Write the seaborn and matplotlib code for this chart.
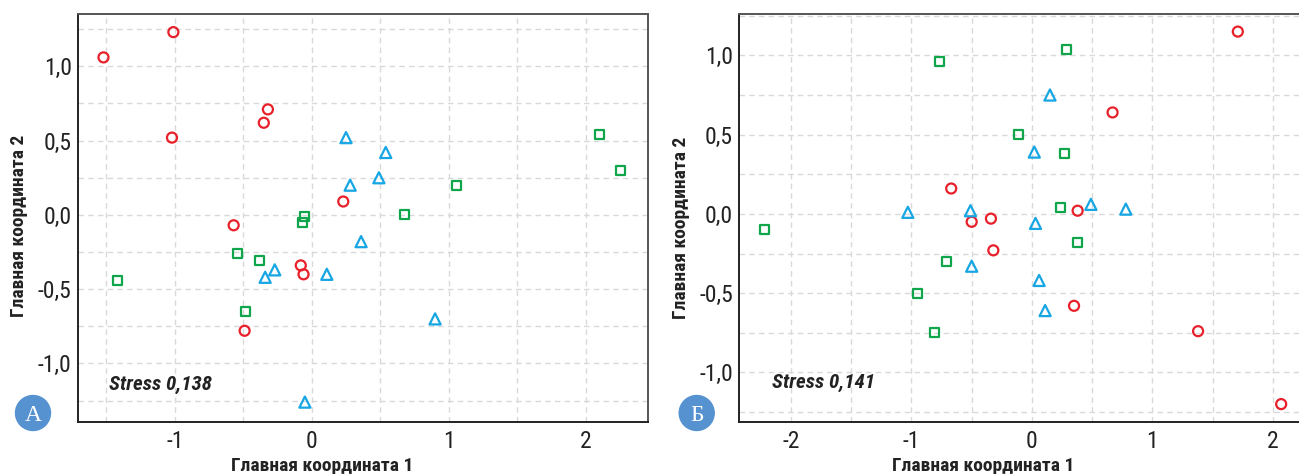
import matplotlib

matplotlib.use("Agg")
import matplotlib.pyplot as plt
import pandas as pd
import seaborn as sns
from matplotlib import font_manager
from matplotlib.patches import Ellipse
from matplotlib.ticker import FixedLocator

# panel A (Stress 0,138)
A_RED_X = [-1.52, -1.01, -0.32, -0.35, -1.02, 0.23, -0.57, -0.08, -0.06, -0.49]
A_RED_Y = [1.06, 1.23, 0.71, 0.62, 0.52, 0.09, -0.07, -0.34, -0.40, -0.78]
A_BLUE_X = [0.25, 0.54, 0.49, 0.28, 0.36, -0.27, -0.34, 0.11, 0.90, -0.05]
A_BLUE_Y = [0.52, 0.42, 0.25, 0.20, -0.18, -0.37, -0.42, -0.40, -0.70, -1.26]
A_GREEN_X = [2.10, 2.25, 1.06, 0.68, -0.05, -0.07, -0.54, -0.38, -1.42, -0.48]
A_GREEN_Y = [0.54, 0.30, 0.20, 0.00, -0.01, -0.05, -0.26, -0.31, -0.44, -0.65]

# panel Б (Stress 0,141)
B_RED_X = [1.71, 0.67, -0.67, -0.34, -0.50, 0.38, -0.32, 0.35, 1.38, 2.07]
B_RED_Y = [1.15, 0.64, 0.16, -0.03, -0.05, 0.02, -0.23, -0.58, -0.74, -1.20]
B_BLUE_X = [0.15, 0.02, -1.03, -0.51, 0.03, 0.49, 0.78, -0.50, 0.06, 0.11]
B_BLUE_Y = [0.75, 0.39, 0.01, 0.02, -0.06, 0.06, 0.03, -0.33, -0.42, -0.61]
B_GREEN_X = [0.29, -0.77, -0.11, 0.27, 0.24, -2.22, 0.38, -0.71, -0.95, -0.81]
B_GREEN_Y = [1.04, 0.96, 0.50, 0.38, 0.04, -0.10, -0.18, -0.30, -0.50, -0.75]

A_XTICKS = [-1, 0, 1, 2]
B_XTICKS = [-2, -1, 0, 1, 2]
YTICKS = [-1.0, -0.5, 0.0, 0.5, 1.0]
YTICK_LABELS = ["-1,0", "-0,5", "0,0", "0,5", "1,0"]
STRESS_A = "Stress 0,138"
STRESS_B = "Stress 0,141"
XLABEL = "Главная координата 1"
YLABEL = "Главная координата 2"

STYLE = {
    "red": ("o", "#e8202a", 52),
    "blue": ("^", "#16a6e3", 64),
    "green": ("s", "#0fa64b", 42),
}

W, H = 1299, 474
SERIF = ["Liberation Serif", "DejaVu Serif"]


def _pick_narrow():
    # the original uses a condensed grotesque; take whatever narrow face exists
    entries = font_manager.fontManager.ttflist
    names = {f.name for f in entries}
    for pref in ("Liberation Sans Narrow", "Roboto Condensed", "Noto Sans Condensed",
                 "Open Sans Condensed", "DejaVu Sans Condensed", "Arial Narrow"):
        if pref in names:
            return pref, "normal", True
    for n in sorted(names):
        if "Condensed" in n or "Narrow" in n:
            return n, "normal", True
    for f in entries:
        if f.stretch in ("condensed", "semi-condensed", "extra-condensed"):
            return f.name, f.stretch, True
    return "Liberation Sans", "normal", False


NARROW_NAME, NARROW_STRETCH, IS_NARROW = _pick_narrow()
NARROW = [NARROW_NAME, "DejaVu Sans"]
SIZE_SCALE = 1.0 if IS_NARROW else 0.88


def _frame(xr, yr, xb, yb, xg, yg):
    parts = []
    for name, xs, ys in (("red", xr, yr), ("blue", xb, yb), ("green", xg, yg)):
        parts.append(pd.DataFrame({"x": xs, "y": ys, "group": name}))
    return pd.concat(parts, ignore_index=True)


def _panel(ax, df, xlim, ylim, xticks, stress, stress_pos, xlab_x, ylab_pos):
    for name, (marker, color, size) in STYLE.items():
        sub = df[df["group"] == name]
        sns.scatterplot(
            data=sub, x="x", y="y", ax=ax, marker=marker, s=size,
            color=color, facecolor="none", edgecolor=color, linewidth=1.6,
            legend=False, zorder=3,
        )
    ax.set_xlim(*xlim)
    ax.set_ylim(*ylim)

    ax.xaxis.set_major_locator(FixedLocator(xticks))
    ax.set_xticklabels([str(t) for t in xticks])
    xminor = [t + 0.5 for t in range(-3, 3) if xlim[0] < t + 0.5 < xlim[1]]
    ax.xaxis.set_minor_locator(FixedLocator(xminor))
    ax.yaxis.set_major_locator(FixedLocator(YTICKS))
    ax.set_yticklabels(YTICK_LABELS)
    ax.yaxis.set_minor_locator(FixedLocator([-1.25, -0.75, -0.25, 0.25, 0.75, 1.25]))

    ax.set_axisbelow(True)
    ax.grid(which="both", color="#d9d9d9", linestyle=(0, (4, 3)), linewidth=1.0)
    ax.tick_params(which="major", length=2.5, width=1, color="#333333",
                   labelsize=17 * SIZE_SCALE, labelcolor="#222222")
    ax.tick_params(axis="x", which="major", pad=3.5)
    ax.tick_params(axis="y", which="major", pad=2)
    ax.tick_params(which="minor", length=0)
    for lab in ax.get_xticklabels() + ax.get_yticklabels():
        lab.set_family(NARROW)
        lab.set_stretch(NARROW_STRETCH)

    for side in ("left", "bottom"):
        ax.spines[side].set_color("#222222")
        ax.spines[side].set_linewidth(1.4)
    for side in ("top", "right"):
        ax.spines[side].set_color("#555555")
        ax.spines[side].set_linewidth(1.4)

    ax.set_xlabel(XLABEL, fontsize=14 * SIZE_SCALE, fontweight="bold", family=NARROW,
                  fontstretch=NARROW_STRETCH, color="#222222", va="baseline")
    ax.xaxis.set_label_coords(xlab_x, -0.1194)
    ax.set_ylabel(YLABEL, fontsize=14 * SIZE_SCALE, fontweight="bold", family=NARROW,
                  fontstretch=NARROW_STRETCH, color="#222222", va="baseline")
    ax.yaxis.set_label_coords(*ylab_pos)

    ax.text(stress_pos[0], stress_pos[1], stress, transform=ax.transAxes,
            fontsize=15 * SIZE_SCALE, fontweight="bold", fontstyle="italic", family=NARROW,
            fontstretch=NARROW_STRETCH, color="#222222", ha="left", va="baseline")


def _badge(fig, cx, cy, letter):
    r = 17.5
    fig.add_artist(Ellipse((cx / W, 1 - cy / H), 2 * r / W, 2 * r / H,
                           transform=fig.transFigure, color="#5592cf", zorder=5))
    fig.text(cx / W, 1 - (cy + 8) / H, letter, ha="center", va="baseline",
             color="white", fontsize=17, family=SERIF, zorder=6)


def main():
    sns.set_theme(style="white")
    plt.rcParams["font.family"] = NARROW

    df_a = _frame(A_RED_X, A_RED_Y, A_BLUE_X, A_BLUE_Y, A_GREEN_X, A_GREEN_Y)
    df_b = _frame(B_RED_X, B_RED_Y, B_BLUE_X, B_BLUE_Y, B_GREEN_X, B_GREEN_Y)

    fig = plt.figure(figsize=(W / 100, H / 100), dpi=100)
    fig.patch.set_facecolor("white")
    ax_a = fig.add_axes([78 / W, 52 / H, 570 / W, 408 / H])
    ax_b = fig.add_axes([739 / W, 52 / H, 560 / W, 408 / H])

    _panel(ax_a, df_a, (-1.706, 2.454), (-1.394, 1.352), A_XTICKS,
           STRESS_A, (0.055, 0.0784), 0.429, (-0.0939, 0.480))
    _panel(ax_b, df_b, (-2.432, 2.218), (-1.313, 1.261), B_XTICKS,
           STRESS_B, (0.0584, 0.0826), 0.4357, (-0.0946, 0.475))
    ax_b.spines["right"].set_visible(False)

    _badge(fig, 33, 413, "А")
    _badge(fig, 696.7, 413, "Б")

    fig.savefig("out.png", dpi=100, facecolor="white")
    plt.close(fig)


if __name__ == "__main__":
    main()
